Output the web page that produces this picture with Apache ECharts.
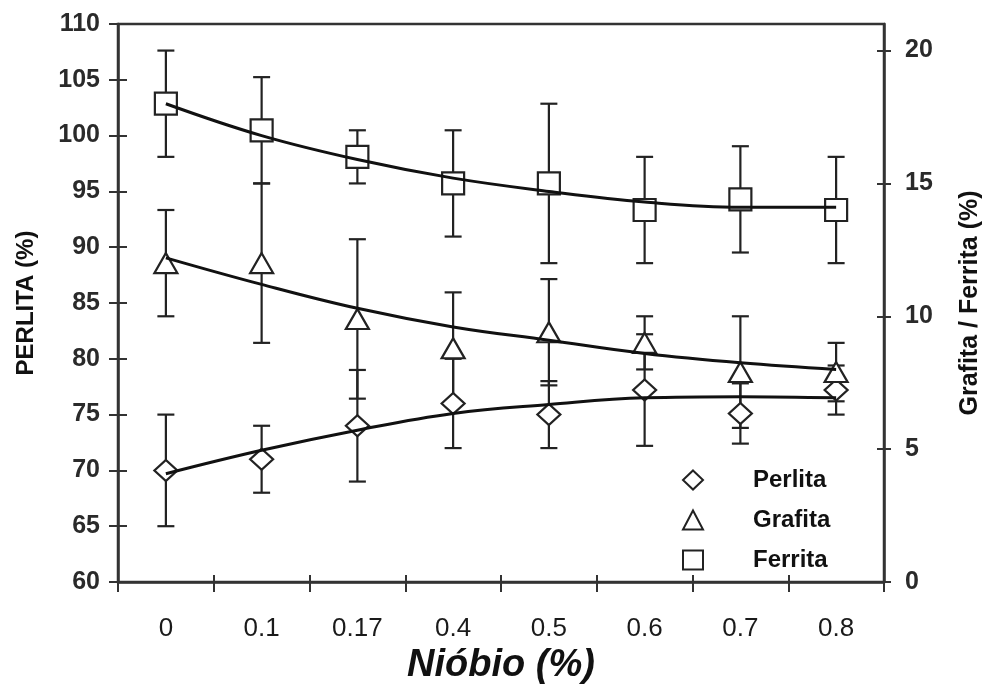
<!DOCTYPE html>
<html>
<head>
<meta charset="utf-8">
<script src="https://cdn.jsdelivr.net/npm/echarts@6/dist/echarts.min.js"></script>
<style>html,body{margin:0;padding:0;background:#fff}#c{width:994px;height:697px}</style>
</head>
<body>
<div id="c"></div>
<script>
// ---- data ----
const categories = ['0', '0.1', '0.17', '0.4', '0.5', '0.6', '0.7', '0.8'];
const rightTickValues = [0, 5, 10, 15, 20];

const perlitaMean = [70, 71, 74, 76, 75, 77.2, 75.1, 77.2];
const perlitaErr  = [5, 3, 5, 4, 3, 5, 2.7, 2.2];
const grafitaMean = [12, 12, 9.9, 8.8, 9.4, 9.0, 7.9, 7.9];
const grafitaErr  = [2, 3, 3, 2.1, 2, 1, 2.1, 1.1];
const ferritaMean = [18, 17, 16, 15, 15, 14, 14.4, 14];
const ferritaErr  = [2, 2, 1, 2, 3, 2, 2, 2];

const perlitaFit = [69.7, 71.8, 73.6, 75.1, 75.9, 76.5, 76.6, 76.5];
const grafitaFit = [12.2, 11.2, 10.3, 9.6, 9.1, 8.6, 8.25, 8.0];
const ferritaFit = [18.0, 16.8, 15.9, 15.2, 14.7, 14.3, 14.1, 14.1];

// ---- chart ----
const FONT = '"Liberation Sans", Arial, sans-serif';
const AX = '#333';
const chart = echarts.init(document.getElementById('c'));

function errData(mean, err) {
  return mean.map((m, i) => [i, m - err[i], m + err[i]]);
}
function errSeries(yIdx, mean, err) {
  return {
    type: 'custom', yAxisIndex: yIdx, z: 2, silent: true,
    encode: { x: 0, y: [1, 2] },
    data: errData(mean, err),
    renderItem: function (params, api) {
      const x = api.value(0);
      const lo = api.coord([x, api.value(1)]);
      const hi = api.coord([x, api.value(2)]);
      const w = 8.5;
      const style = { stroke: '#222', lineWidth: 2.2, fill: null };
      return {
        type: 'group', children: [
          { type: 'line', shape: { x1: lo[0], y1: lo[1], x2: hi[0], y2: hi[1] }, style: style },
          { type: 'line', shape: { x1: lo[0] - w, y1: lo[1], x2: lo[0] + w, y2: lo[1] }, style: style },
          { type: 'line', shape: { x1: hi[0] - w, y1: hi[1], x2: hi[0] + w, y2: hi[1] }, style: style }
        ]
      };
    }
  };
}
function markerSeries(name, yIdx, symbol, size, mean) {
  return {
    name: name, type: 'scatter', yAxisIndex: yIdx, z: 3,
    symbol: symbol, symbolSize: size,
    itemStyle: { color: '#fff', borderColor: '#222', borderWidth: 2.2, opacity: 1 },
    data: mean
  };
}
function fitSeries(yIdx, fit) {
  return {
    type: 'line', yAxisIndex: yIdx, z: 4, silent: true, smooth: 0.4,
    symbol: 'none', lineStyle: { color: '#111', width: 3 },
    data: fit
  };
}

const tickStyle = { color: AX, width: 2 };

chart.setOption({
  animation: false,
  backgroundColor: '#fff',
  grid: {
    left: 118, right: 110, top: 24, bottom: 115,
    show: true, borderColor: AX, borderWidth: 2.5, backgroundColor: 'transparent'
  },
  legend: {
    orient: 'vertical', left: 677, top: 463,
    itemWidth: 20, itemHeight: 19, itemGap: 16,
    selectedMode: false,
    data: ['Perlita', 'Grafita', 'Ferrita'],
    textStyle: { fontFamily: FONT, fontSize: 24, fontWeight: 'bold', color: '#111', padding: [0, 0, 0, 45] }
  },
  xAxis: [
    {
      type: 'category', data: categories, position: 'bottom', boundaryGap: true,
      axisLine: { show: true, onZero: false, lineStyle: { color: AX, width: 2.5 } },
      axisTick: { show: true, length: 10, lineStyle: tickStyle },
      axisLabel: { fontFamily: FONT, fontSize: 26, color: '#1a1a1a', margin: 34 },
      name: 'Nióbio (%)', nameLocation: 'middle', nameGap: 64,
      nameTextStyle: { fontFamily: FONT, fontSize: 38, fontWeight: 'bold', fontStyle: 'italic', color: '#111' },
      splitLine: { show: false }
    },
    {
      type: 'category', data: categories, position: 'bottom', boundaryGap: true,
      axisLine: { show: false, onZero: false },
      axisTick: { show: true, inside: true, length: 7, lineStyle: tickStyle },
      axisLabel: { show: false }, splitLine: { show: false }
    }
  ],
  yAxis: [
    {
      type: 'value', position: 'left', min: 60, max: 110, interval: 5,
      axisLine: { show: true, lineStyle: { color: AX, width: 2.5 } },
      axisTick: { show: true, length: 9, lineStyle: tickStyle },
      axisLabel: { fontFamily: FONT, fontSize: 25, fontWeight: 'bold', color: '#2a2a2a', margin: 18 },
      splitLine: { show: false },
      name: 'PERLITA (%)', nameLocation: 'middle', nameGap: 80,
      nameTextStyle: { fontFamily: FONT, fontSize: 24, fontWeight: 'bold', color: '#111' }
    },
    {
      type: 'value', position: 'right', min: 0, max: 21,
      axisLine: { show: true, lineStyle: { color: AX, width: 2.5 } },
      axisTick: { show: true, length: 7, lineStyle: tickStyle, customValues: rightTickValues },
      axisLabel: { fontFamily: FONT, fontSize: 25, fontWeight: 'bold', color: '#2a2a2a', margin: 21, customValues: rightTickValues },
      splitLine: { show: false },
      name: 'Grafita / Ferrita (%)', nameLocation: 'middle', nameGap: 74,
      nameTextStyle: { fontFamily: FONT, fontSize: 25, fontWeight: 'bold', color: '#111' }
    },
    {
      type: 'value', position: 'left', min: 60, max: 110, interval: 5,
      axisLine: { show: false },
      axisTick: { show: true, inside: true, length: 9, lineStyle: tickStyle },
      axisLabel: { show: false }, splitLine: { show: false }
    },
    {
      type: 'value', position: 'right', min: 0, max: 21,
      axisLine: { show: false },
      axisTick: { show: true, inside: true, length: 7, lineStyle: tickStyle, customValues: rightTickValues },
      axisLabel: { show: false, customValues: rightTickValues }, splitLine: { show: false }
    }
  ],
  series: [
    errSeries(0, perlitaMean, perlitaErr),
    errSeries(1, grafitaMean, grafitaErr),
    errSeries(1, ferritaMean, ferritaErr),
    markerSeries('Perlita', 0, 'diamond', [23, 21], perlitaMean),
    markerSeries('Grafita', 1, 'triangle', [23, 20], grafitaMean),
    markerSeries('Ferrita', 1, 'rect', [22, 22], ferritaMean),
    fitSeries(0, perlitaFit),
    fitSeries(1, grafitaFit),
    fitSeries(1, ferritaFit)
  ]
});
</script>
</body>
</html>
